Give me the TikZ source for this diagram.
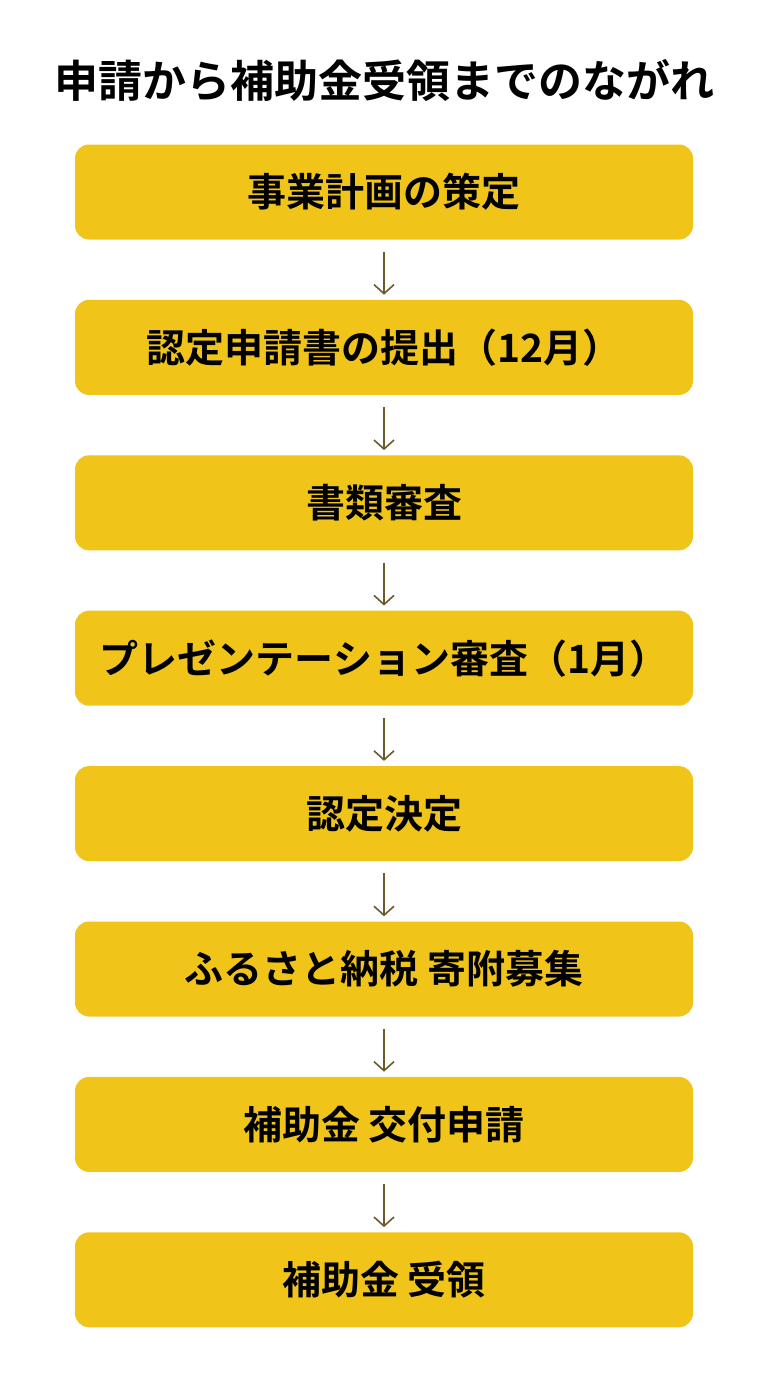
\documentclass[tikz,border=0pt]{standalone}
\usepackage{fontspec}
\setmainfont{Noto Sans CJK JP}[BoldFont={* Bold}]
\usetikzlibrary{positioning, arrows.meta}
\definecolor{stepyellow}{HTML}{F0C419}
\definecolor{arrowbrown}{HTML}{6B5A2A}
\tikzset{
  stage/.style = {fill = stepyellow, rounded corners = 14pt, minimum width = 618pt,
    minimum height = 95pt, font = \fontsize{39}{45}\selectfont\bfseries, inner sep = 0pt},
  flow/.style = {-{Straight Barb[length = 9pt, width = 20pt]}, arrowbrown, line width = 1.6pt,
    shorten >= 5pt, shorten <= 12pt},
}
\begin{document}
\begin{tikzpicture} [
  x = 1pt,
  y = -1pt,
]
\useasboundingbox (0, 0) rectangle (768, 1376);
\node [font = \fontsize{44}{50}\selectfont\bfseries] (title) at (384, 80) {申請から補助金受領までのながれ};

\node [stage] (plan) at (384, 192) {事業計画の策定};
\node [stage, below = 60pt of plan] (apply) {認定申請書の提出（12月）};
\node [stage, below = 60pt of apply] (docs) {書類審査};
\node [stage, below = 60pt of docs] (pres) {プレゼンテーション審査（1月）};
\node [stage, below = 60pt of pres] (approve) {認定決定};
\node [stage, below = 60pt of approve] (furusato) {ふるさと納税 寄附募集};
\node [stage, below = 60pt of furusato] (grant) {補助金 交付申請};
\node [stage, below = 60pt of grant] (receive) {補助金 受領};

% arrows between the stages
\foreach \a/\b in {plan/apply, apply/docs, docs/pres, pres/approve, approve/furusato, furusato/grant, grant/receive}
  \draw [flow] (\a) -- (\b);
\end{tikzpicture}
\end{document}
